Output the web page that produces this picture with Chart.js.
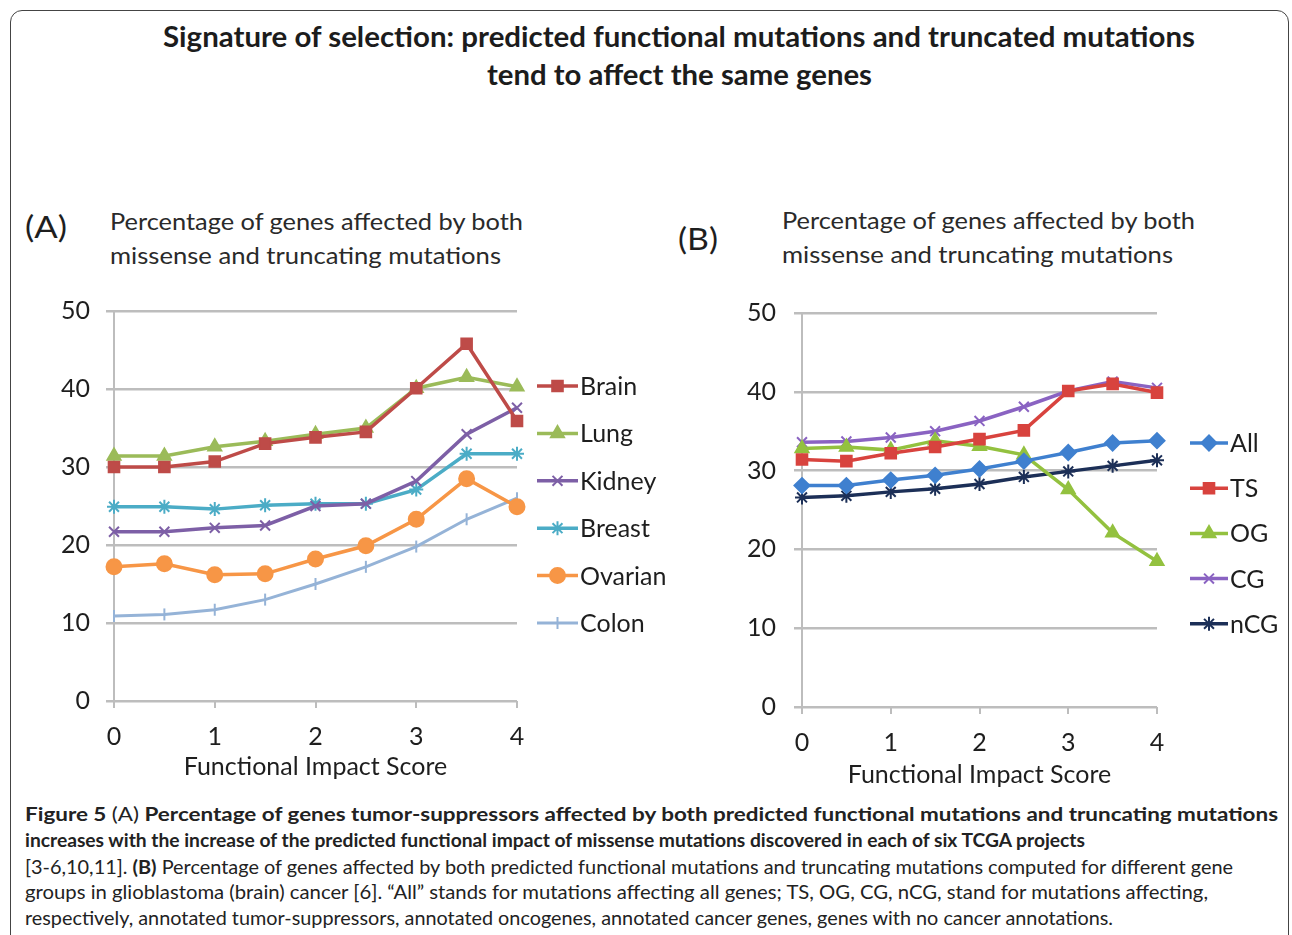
<!DOCTYPE html>
<html>
<head>
<meta charset="utf-8">
<script src="https://cdn.jsdelivr.net/npm/chart.js@4/dist/chart.umd.min.js"></script>
<style>
  html, body { margin: 0; padding: 0; background: #fff; }
  body { width: 1292px; height: 935px; position: relative; overflow: hidden; font-family: Lato, "Open Sans", sans-serif; color: #222; }
  .frame { position: absolute; left: 10px; top: 10px; width: 1279px; height: 960px; border: 1.5px solid #444; border-radius: 12px; box-sizing: border-box; }
  .fit { position: absolute; white-space: nowrap; }
  .title { font-weight: 700; font-size: 28px; color: #1c1c1c; }
  .sub { font-size: 23px; color: #2a2a2a; }
  .panel { font-size: 30px; color: #1e1e1e; }
  .cap { font-size: 19px; color: #222; }
  .cap b { font-weight: 700; }
  .capb { font-weight: 700; }
  canvas { position: absolute; }
</style>
</head>
<body>
<div class="frame"></div>

<div class="fit title" data-w="1032" style="left:163px; top:19px;">Signature of selection: predicted functional mutations and truncated mutations</div>
<div class="fit title" data-w="385" style="left:487px; top:57px;">tend to affect the same genes</div>

<div class="fit panel" data-w="42" style="left:25px; top:208px;">(A)</div>
<div class="fit sub" data-w="413" style="left:110px; top:207px;">Percentage of genes affected by both</div>
<div class="fit sub" data-w="391" style="left:110px; top:241px;">missense and truncating mutations</div>

<div class="fit panel" data-w="40" style="left:678px; top:220px;">(B)</div>
<div class="fit sub" data-w="413" style="left:782px; top:206px;">Percentage of genes affected by both</div>
<div class="fit sub" data-w="391" style="left:782px; top:240px;">missense and truncating mutations</div>

<canvas id="chartA" width="680" height="520" style="left:0px; top:280px; width:680px; height:520px;"></canvas>
<canvas id="chartB" width="612" height="520" style="left:680px; top:280px; width:612px; height:520px;"></canvas>

<div class="fit cap capb" data-w="1253" style="left:25px; top:802px;">Figure 5 <span style="font-weight:400">(A)</span> Percentage of genes tumor-suppressors affected by both predicted functional mutations and truncating mutations</div>
<div class="fit cap capb" data-w="1060" style="left:25px; top:828px;">increases with the increase of the predicted functional impact of missense mutations discovered in each of six TCGA projects</div>
<div class="fit cap" data-w="1208" style="left:25px; top:855px;">[3-6,10,11]. <b>(B)</b> Percentage of genes affected by both predicted functional mutations and truncating mutations computed for different gene</div>
<div class="fit cap" data-w="1183" style="left:25px; top:880px;">groups in glioblastoma (brain) cancer [6]. “All” stands for mutations affecting all genes; TS, OG, CG, nCG, stand for mutations affecting,</div>
<div class="fit cap" data-w="1088" style="left:25px; top:906px;">respectively, annotated tumor-suppressors, annotated oncogenes, annotated cancer genes, genes with no cancer annotations.</div>

<script>
// Functional impact score bins shared by both panels
const scores = [0, 0.5, 1, 1.5, 2, 2.5, 3, 3.5, 4];
const xTicks = [0, 1, 2, 3, 4];
const yTicks = [0, 10, 20, 30, 40, 50];

// (A) percentage of genes hit by both mutation types, per TCGA project
const brain   = [30.0, 30.0, 30.7, 33.0, 33.8, 34.5, 40.1, 45.8, 35.9];
const lung    = [31.4, 31.4, 32.6, 33.3, 34.2, 35.0, 40.1, 41.5, 40.3];
const kidney  = [21.7, 21.7, 22.2, 22.5, 25.0, 25.3, 28.2, 34.2, 37.6];
const breast  = [24.9, 24.9, 24.6, 25.1, 25.3, 25.3, 27.1, 31.7, 31.7];
const ovarian = [17.2, 17.6, 16.2, 16.3, 18.2, 19.9, 23.3, 28.5, 24.9];
const colon   = [10.9, 11.1, 11.7, 13.0, 15.0, 17.2, 19.8, 23.3, 26.0];

// (B) glioblastoma, by gene group
const allGenes = [28.1, 28.1, 28.8, 29.4, 30.2, 31.2, 32.3, 33.5, 33.8];
const tsGenes  = [31.4, 31.2, 32.2, 33.0, 34.0, 35.1, 40.1, 41.0, 39.9];
const ogGenes  = [32.8, 33.0, 32.6, 33.8, 33.1, 32.0, 27.6, 22.1, 18.5];
const cgGenes  = [33.6, 33.7, 34.2, 35.0, 36.3, 38.1, 40.1, 41.3, 40.5];
const ncgGenes = [26.6, 26.8, 27.3, 27.7, 28.3, 29.2, 29.9, 30.6, 31.3];

const seriesA = ['Brain', 'Lung', 'Kidney', 'Breast', 'Ovarian', 'Colon'];
const seriesB = ['All', 'TS', 'OG', 'CG', 'nCG'];

const FONT = 'Lato, "Open Sans", sans-serif';
const GRID = '#BDBDBD';
const INK = '#1e1e1e';

function pts(values) {
  return scores.map((s, i) => ({ x: s, y: values[i] }));
}

function ds(label, values, color, style, radius, extra) {
  return Object.assign({
    label: label,
    data: pts(values),
    borderColor: color,
    backgroundColor: color,
    pointBackgroundColor: color,
    pointBorderColor: color,
    pointStyle: style,
    pointRadius: radius,
    pointHoverRadius: radius,
    pointBorderWidth: 2,
    borderWidth: 3.5,
    tension: 0,
    clip: false
  }, extra || {});
}

// Legend drawn as a short line with the series marker, then the label
const lineLegend = {
  id: 'lineLegend',
  afterDraw(chart, args, opts) {
    const ctx = chart.ctx;
    ctx.save();
    chart.data.datasets.forEach((d, i) => {
      const y = opts.y + i * opts.dy;
      ctx.strokeStyle = d.borderColor;
      ctx.lineWidth = d.borderWidth;
      ctx.beginPath();
      ctx.moveTo(opts.x, y);
      ctx.lineTo(opts.x + opts.len, y);
      ctx.stroke();
      ctx.fillStyle = d.pointBackgroundColor;
      ctx.strokeStyle = d.pointBorderColor;
      ctx.lineWidth = d.pointBorderWidth;
      Chart.helpers.drawPoint(ctx, {
        pointStyle: d.pointStyle,
        rotation: d.pointRotation || 0,
        radius: d.pointRadius,
        borderWidth: d.pointBorderWidth
      }, opts.x + opts.len / 2, y);
      ctx.fillStyle = INK;
      ctx.font = opts.font;
      ctx.textBaseline = 'middle';
      ctx.textAlign = 'left';
      ctx.fillText(d.label, opts.x + opts.len + 2, y + 1);
    });
    ctx.restore();
  }
};

function makeOptions(cfg) {
  return {
    responsive: false,
    animation: false,
    events: [],
    layout: { padding: { top: cfg.top, right: cfg.right, bottom: cfg.bottom, left: 0 } },
    plugins: {
      legend: { display: false },
      tooltip: { enabled: false },
      lineLegend: cfg.legend
    },
    scales: {
      x: {
        type: 'linear',
        min: 0, max: 4,
        afterBuildTicks: (s) => { s.ticks = xTicks.map(v => ({ value: v })); },
        afterFit: (s) => { s.height = cfg.xHeight; },
        ticks: { color: INK, font: { family: FONT, size: 25 }, padding: cfg.xPad, maxRotation: 0 },
        grid: { drawOnChartArea: false, drawTicks: true, tickLength: 7, color: GRID, lineWidth: 2 },
        border: { display: false },
        title: { display: true, text: 'Functional Impact Score', color: INK, font: { family: FONT, size: 25 }, padding: { top: 0, bottom: 4 } }
      },
      y: {
        min: 0, max: 50,
        afterBuildTicks: (s) => { s.ticks = yTicks.map(v => ({ value: v })); },
        afterFit: (s) => { s.width = cfg.yWidth; },
        ticks: { color: INK, font: { family: FONT, size: 25 }, padding: cfg.yPad },
        grid: { color: GRID, lineWidth: 2.5, drawTicks: true, tickLength: 8 },
        border: { display: true, color: GRID, width: 2 }
      }
    }
  };
}

new Chart(document.getElementById('chartA'), {
  type: 'line',
  data: {
    datasets: [
      ds(seriesA[0], brain,   '#BE4B48', 'rect', 7.5),
      ds(seriesA[1], lung,    '#9BBB59', 'triangle', 7.5),
      ds(seriesA[2], kidney,  '#7D5FA6', 'crossRot', 7),
      ds(seriesA[3], breast,  '#4BACC6', 'star', 7),
      ds(seriesA[4], ovarian, '#F79646', 'circle', 7.5),
      ds(seriesA[5], colon,   '#95B3D7', 'line', 6, { pointRotation: 90, borderWidth: 3 })
    ]
  },
  options: makeOptions({
    top: 25, right: 163, bottom: 14,
    xHeight: 85, xPad: 14, yWidth: 114, yPad: 16,
    legend: { x: 537, y: 106, dy: 47.4, len: 41, font: '25px ' + FONT }
  }),
  plugins: [lineLegend]
});

new Chart(document.getElementById('chartB'), {
  type: 'line',
  data: {
    datasets: [
      ds(seriesB[0], allGenes, '#3F80CF', 'rectRot', 7.5),
      ds(seriesB[1], tsGenes,  '#D8433E', 'rect', 7.5),
      ds(seriesB[2], ogGenes,  '#93C13F', 'triangle', 7.5),
      ds(seriesB[3], cgGenes,  '#8A63C2', 'crossRot', 7),
      ds(seriesB[4], ncgGenes, '#1C2F57', 'star', 7)
    ]
  },
  options: makeOptions({
    top: 28, right: 135, bottom: 6,
    xHeight: 87, xPad: 14, yWidth: 122, yPad: 18,
    legend: { x: 510, y: 163, dy: 45.2, len: 38, font: '25px ' + FONT }
  }),
  plugins: [lineLegend]
});

// Stretch each text line to its set width
document.querySelectorAll('.fit[data-w]').forEach(el => {
  const w = el.getBoundingClientRect().width;
  const target = parseFloat(el.dataset.w);
  el.style.transformOrigin = 'left top';
  el.style.transform = 'scaleX(' + (target / w).toFixed(4) + ')';
});
</script>
</body>
</html>
